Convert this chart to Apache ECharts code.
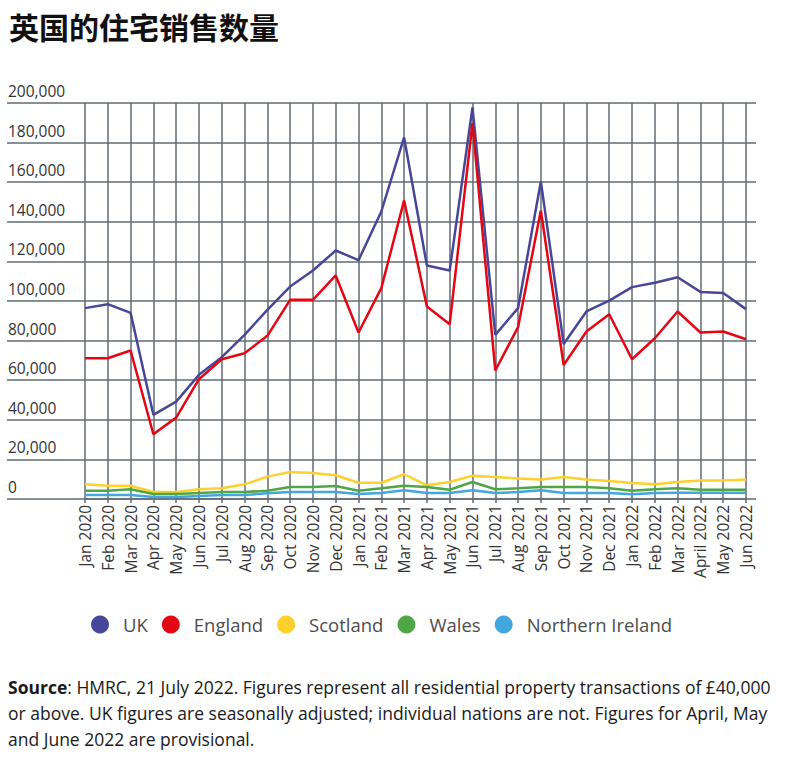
<!DOCTYPE html>
<html>
<head>
<meta charset="utf-8">
<script src="https://cdn.jsdelivr.net/npm/echarts@6/dist/echarts.min.js"></script>
<style>
  html, body { margin: 0; padding: 0; background: #fff; }
  #chart { width: 792px; height: 774px; }
</style>
</head>
<body>
<div id="chart"></div>
<script>
var months = ['Jan 2020', 'Feb 2020', 'Mar 2020', 'Apr 2020', 'May 2020', 'Jun 2020', 'Jul 2020', 'Aug 2020', 'Sep 2020', 'Oct 2020', 'Nov 2020', 'Dec 2020',
  'Jan 2021', 'Feb 2021', 'Mar 2021', 'Apr 2021', 'May 2021', 'Jun 2021', 'Jul 2021', 'Aug 2021', 'Sep 2021', 'Oct 2021', 'Nov 2021', 'Dec 2021',
  'Jan 2022', 'Feb 2022', 'Mar 2022', 'April 2022', 'May 2022', 'Jun 2022'];

var uk = [96400, 98400, 94000, 42500, 49200, 62700, 71600, 82900, 95500, 107300, 115400, 125500,
  120600, 145200, 182600, 117900, 115400, 197800, 82900, 96400, 160400, 78300, 94700, 100200,
  107000, 109200, 112000, 104600, 104000, 95900];
var england = [71100, 71100, 75000, 32700, 41100, 60500, 70600, 73600, 82400, 100600, 100600, 112900,
  84100, 106500, 150800, 97200, 88300, 189900, 64900, 86800, 145700, 67700, 84600, 93300,
  70600, 81200, 94700, 84100, 84600, 80700];
var scotland = [7400, 6700, 6700, 3500, 3500, 4900, 5400, 7400, 11300, 13600, 13100, 12000,
  8200, 8200, 12500, 6900, 8600, 11800, 11100, 10400, 9900, 11100, 9800, 9100,
  8100, 7400, 8600, 9300, 9300, 9800];
var wales = [4200, 4200, 4900, 2500, 2500, 3000, 3500, 3500, 4200, 6100, 6100, 6600,
  4200, 5400, 6700, 6100, 4700, 8600, 4900, 5400, 6100, 6100, 6100, 5400,
  4200, 4900, 5400, 4700, 4700, 4700];
var nireland = [2000, 2000, 2000, 1000, 1000, 1500, 2000, 2000, 2900, 3500, 3500, 3500,
  2500, 3000, 4400, 3000, 3000, 4400, 3000, 3500, 4400, 3000, 3000, 3000,
  2400, 3000, 3200, 3200, 3200, 3200];

var seriesNames = ['UK', 'England', 'Scotland', 'Wales', 'Northern Ireland'];
var seriesColors = ['#47479a', '#e30613', '#fdd02e', '#4ea644', '#43a6df'];
var seriesData = [uk, england, scotland, wales, nireland];

var gridColor = '#606b72';

var chart = echarts.init(document.getElementById('chart'), null, { renderer: 'svg' });

function fmt(v) {
  return String(v).replace(/\B(?=(\d{3})+(?!\d))/g, ',');
}

chart.setOption({
  animation: false,
  title: {
    text: '英国的住宅销售数量',
    left: 4,
    top: 6,
    textStyle: { fontFamily: 'Noto Sans CJK SC', fontWeight: 'bold', fontSize: 30, color: '#111' }
  },
  legend: {
    data: seriesNames,
    left: 86,
    top: 610,
    icon: 'circle',
    itemWidth: 36,
    itemHeight: 18,
    itemGap: 14,
    textStyle: { fontFamily: 'Open Sans', fontSize: 18.5, color: '#4d4d4d' }
  },
  grid: { left: 85, right: 46, top: 103, bottom: 275 },
  xAxis: {
    type: 'category',
    data: months,
    boundaryGap: false,
    axisLine: { lineStyle: { color: gridColor, width: 1.5 } },
    axisTick: { show: true, length: 4, lineStyle: { color: gridColor, width: 1.5 } },
    splitLine: { show: true, lineStyle: { color: gridColor, width: 1.5 } },
    axisLabel: {
      rotate: 90,
      interval: 0,
      margin: 6,
      fontFamily: 'Open Sans',
      fontSize: 15.5,
      color: '#333'
    }
  },
  yAxis: [{
    type: 'value',
    min: 0,
    max: 200000,
    interval: 20000,
    axisLine: { show: false },
    axisTick: { show: true, length: 78, lineStyle: { color: gridColor, width: 1.5 } },
    splitLine: { show: true, lineStyle: { color: gridColor, width: 1.5 } },
    axisLabel: {
      margin: 77,
      align: 'left',
      verticalAlign: 'bottom',
      padding: [0, 0, 4, 0],
      fontFamily: 'Open Sans',
      fontSize: 15.5,
      color: '#333',
      formatter: fmt
    }
  }, {
    type: 'value',
    position: 'right',
    min: 0,
    max: 200000,
    interval: 20000,
    axisLine: { show: false },
    axisTick: { show: true, length: 10, lineStyle: { color: gridColor, width: 1.5 } },
    splitLine: { show: false },
    axisLabel: { show: false }
  }],
  series: seriesNames.map(function(name, i) {
    return {
      name: name,
      type: 'line',
      data: seriesData[i],
      symbol: 'none',
      color: seriesColors[i],
      lineStyle: { color: seriesColors[i], width: 2.5 }
    };
  }),
  graphic: [{
    type: 'text',
    left: 8,
    top: 674,
    style: {
      text: '{b|Source}: HMRC, 21 July 2022. Figures represent all residential property transactions of £40,000\n' +
        'or above. UK figures are seasonally adjusted; individual nations are not. Figures for April, May\n' +
        'and June 2022 are provisional.',
      fontFamily: 'Open Sans',
      fontSize: 17.5,
      lineHeight: 26,
      fill: '#1a1a1a',
      rich: {
        b: { fontFamily: 'Open Sans', fontWeight: 'bold', fontSize: 17.5, lineHeight: 26, fill: '#1a1a1a' }
      }
    }
  }]
});
</script>
</body>
</html>
